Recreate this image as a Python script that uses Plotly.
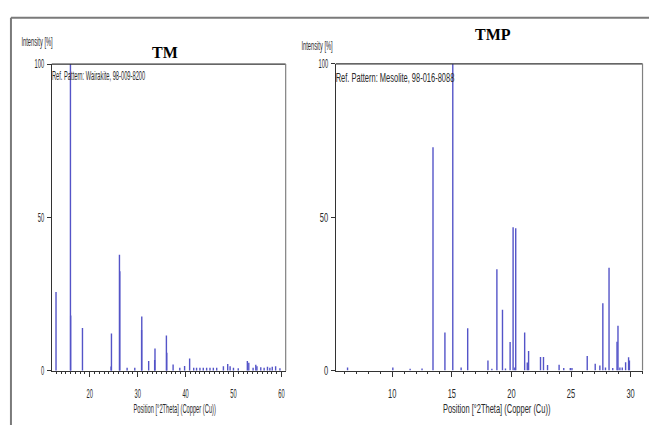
import plotly.graph_objects as go

# Reference stick patterns: peak position (deg 2-theta) and relative intensity (%)
tm_pos = [12.96, 15.97, 16.02, 18.48, 24.45, 24.53, 26.20, 26.28, 27.8, 29.4,
          30.82, 30.86, 32.3, 33.55, 33.62, 36.0, 36.08, 37.4, 38.8, 39.8,
          40.85, 41.7, 42.3, 43.0, 43.7, 44.4, 45.1, 45.8, 46.5, 47.9,
          48.8, 49.3, 50.0, 51.0, 52.9, 53.2, 54.1, 54.66, 54.9, 55.7,
          56.4, 57.1, 57.6, 58.1, 58.8, 59.7]
tm_int = [25.7, 100, 18.0, 14.0, 1.4, 12.2, 37.8, 32.5, 1.0, 1.0,
          13.3, 17.7, 3.2, 3.5, 7.3, 11.5, 5.9, 2.1, 1.0, 1.6,
          4.0, 1.0, 1.0, 1.0, 1.0, 1.0, 1.0, 1.0, 1.0, 1.5,
          2.2, 1.5, 1.0, 0.8, 3.2, 2.6, 1.0, 2.0, 1.5, 1.2,
          1.0, 1.3, 1.0, 1.3, 1.5, 0.8]

tmp_pos = [6.25, 10.05, 11.5, 12.5, 13.42, 14.42, 15.08, 15.78, 16.33, 18.03,
           18.36, 18.78, 19.25, 19.5, 19.89, 20.14, 20.28, 20.36, 21.11, 21.33,
           21.44, 22.44, 22.69, 23.03, 24.0, 24.39, 24.94, 25.08, 26.36, 27.03,
           27.42, 27.67, 27.89, 28.19, 28.5, 28.86, 28.94, 29.1, 29.3, 29.58,
           29.83, 29.9]
tmp_int = [1.0, 1.0, 0.6, 0.7, 72.8, 12.4, 100, 1.0, 13.8, 3.3,
           0.6, 33.0, 19.8, 0.7, 9.3, 46.7, 1.0, 46.4, 12.4, 2.6,
           6.4, 4.4, 4.4, 1.8, 1.9, 0.8, 0.8, 0.8, 4.7, 2.2,
           1.6, 21.9, 1.0, 33.5, 0.8, 9.4, 14.6, 1.0, 1.0, 2.7,
           4.3, 3.3]

W, H = 652, 432
STICK = "#5454c8"
FRAME_DARK = "#333333"
FRAME_GRAY = "#808080"
SANS = "Liberation Sans, Arial, sans-serif"
TICK_FONT = dict(family=SANS, size=12.5, color="#2a2a2a")
LABEL_FONT = dict(family=SANS, size=12.5, color="#2a2a2a")


def px(x):
    return x / W


def py(y):
    return 1 - y / H


def sticks(pos, inten):
    xs, ys = [], []
    for p, v in zip(pos, inten):
        xs += [p, p, None]
        ys += [0, v, None]
    return xs, ys


fig = go.Figure()

x1, y1 = sticks(tm_pos, tm_int)
fig.add_trace(go.Scatter(x=x1, y=y1, mode="lines", line=dict(color=STICK, width=1.4),
                         xaxis="x", yaxis="y", hoverinfo="skip", showlegend=False))
x2, y2 = sticks(tmp_pos, tmp_int)
fig.add_trace(go.Scatter(x=x2, y=y2, mode="lines", line=dict(color=STICK, width=1.4),
                         xaxis="x2", yaxis="y2", hoverinfo="skip", showlegend=False))

common_x = dict(showgrid=False, zeroline=False, showline=True, linecolor=FRAME_DARK, linewidth=1.2,
                ticks="outside", ticklen=5, tickcolor=FRAME_DARK, tickfont=TICK_FONT,
                ticklabelstandoff=6,
                minor=dict(ticks="outside", ticklen=2, tickcolor=FRAME_DARK, dtick=1))
common_y = dict(showgrid=False, zeroline=False, showline=True, linecolor=FRAME_DARK, linewidth=1.2,
                ticks="outside", ticklen=4, tickcolor=FRAME_DARK, tickfont=TICK_FONT,
                tickvals=[0, 50, 100], range=[0, 100])

fig.update_layout(
    width=W, height=H, autosize=False,
    margin=dict(l=0, r=0, t=0, b=0),
    paper_bgcolor="white", plot_bgcolor="white",
    xaxis=dict(domain=[px(52), px(287)], range=[12.07, 60.9], anchor="y",
               tickvals=[20, 30, 40, 50, 60], **common_x),
    yaxis=dict(domain=[py(376), py(59)], anchor="x", **common_y),
    xaxis2=dict(domain=[px(337.3), px(645.5)], range=[5.26, 31.0], anchor="y2",
                tickvals=[10, 15, 20, 25, 30], **common_x),
    yaxis2=dict(domain=[py(375.7), py(58.7)], anchor="x2", **common_y),
)

shapes = []
# Top and right sides of each plot frame
for xr, yr in (("x domain", "y domain"), ("x2 domain", "y2 domain")):
    shapes.append(dict(type="line", xref=xr, yref=yr, x0=0, x1=1, y0=1, y1=1,
                       line=dict(color=FRAME_DARK, width=1.2)))
    shapes.append(dict(type="line", xref=xr, yref=yr, x0=1, x1=1, y0=0, y1=1,
                       line=dict(color=FRAME_GRAY, width=1.2)))
# Outer page border (top and left)
shapes.append(dict(type="line", xref="paper", yref="paper", x0=px(11), x1=1, y0=py(11), y1=py(11),
                   line=dict(color="#7a7a7a", width=2)))
shapes.append(dict(type="line", xref="paper", yref="paper", x0=px(11), x1=px(11), y0=py(11), y1=0,
                   line=dict(color="#7a7a7a", width=2)))
fig.update_layout(shapes=shapes)

ann = [
    dict(text="<b>TM</b>", x=px(166), y=py(47), font=dict(family="Liberation Serif", size=16, color="black")),
    dict(text="<b>TMP</b>", x=px(495), y=py(28), font=dict(family="Liberation Serif", size=16, color="black")),
    dict(text="Intensity [%]", x=px(37.5), y=py(36), font=LABEL_FONT),
    dict(text="Intensity [%]", x=px(318), y=py(40), font=LABEL_FONT),
    dict(text="Ref. Pattern: Wairakite, 98-009-8200", x=px(99), y=py(71), font=LABEL_FONT),
    dict(text="Ref. Pattern: Mesolite, 98-016-8088", x=px(396.5), y=py(73), font=LABEL_FONT),
    dict(text="Position [°2Theta] (Copper (Cu))", x=px(175.5), y=py(415), font=LABEL_FONT),
    dict(text="Position [°2Theta] (Copper (Cu))", x=px(499), y=py(415), font=LABEL_FONT),
]
for a in ann:
    a.update(xref="paper", yref="paper", xanchor="center", yanchor="middle", showarrow=False)
fig.update_layout(annotations=ann)

# The instrument software prints its labels in a narrow face: squeeze the sans-serif
# labels horizontally about their anchor (left panel narrower than right panel).
condense = """
var gd = document.getElementById('{plot_id}');
var sel = '.xtick text, .ytick text, .x2tick text, .y2tick text, .annotation-text';
gd.querySelectorAll(sel).forEach(function (t) {
  var s = t.textContent;
  if (s === 'TM' || s === 'TMP') { return; }
  var r = t.getBoundingClientRect();
  var k = (r.left + r.width / 2) < 326 ? 0.46 : 0.6;
  var b = t.getBBox();
  var anchor = t.getAttribute('text-anchor') || 'start';
  var ax = anchor === 'middle' ? b.x + b.width / 2 : (anchor === 'end' ? b.x + b.width : b.x);
  var old = t.getAttribute('transform') || '';
  t.setAttribute('transform', old + ' translate(' + ax + ',0) scale(' + k + ',1) translate(' + (-ax) + ',0)');
});
"""

fig.write_html("out.html", post_script=condense)
